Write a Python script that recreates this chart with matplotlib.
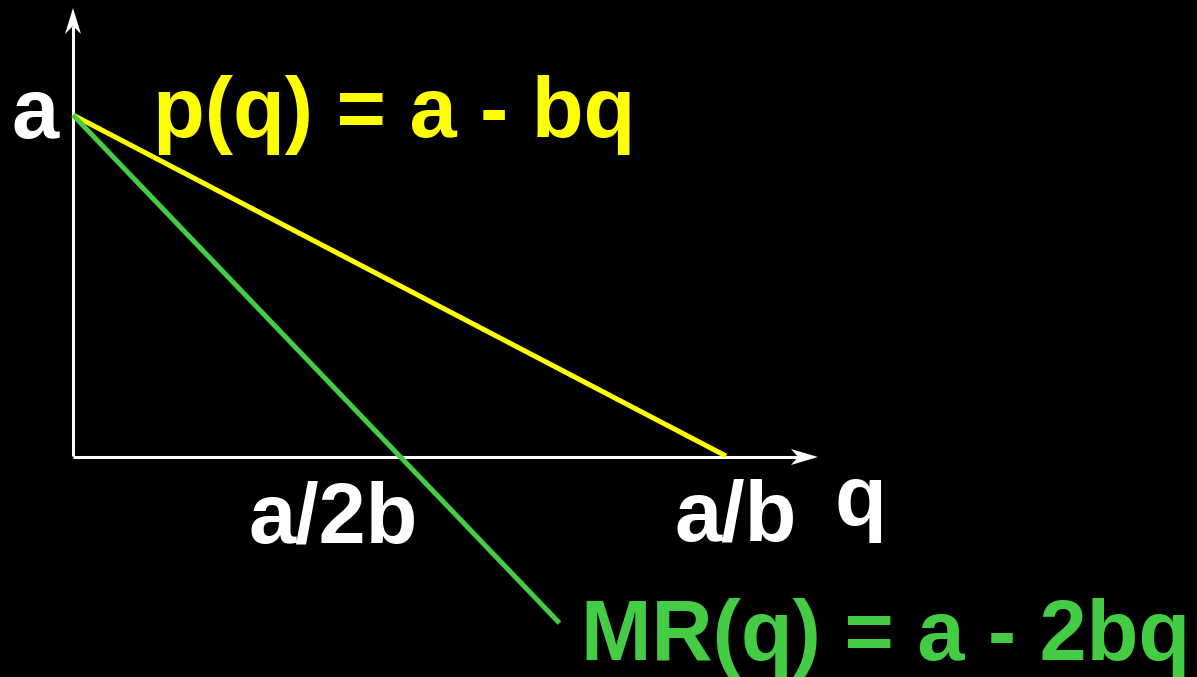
import numpy as np
import matplotlib
matplotlib.use("Agg")
import matplotlib.pyplot as plt
from matplotlib.patches import Polygon

# Linear demand and marginal revenue (a = 1, b = 1)
a = 1.0
b = 1.0
q_demand = [0.0, a / b]
q_mr = [0.0, 0.745]

demand_label = "p(q) = a - bq"
mr_label = "MR(q) = a - 2bq"
tick_labels = ["a/2b", "a/b"]
tick_positions = [a / (2 * b), a / b]

YELLOW = "#FFFF00"
GREEN = "#44CC44"
WHITE = "#FFFFFF"

plt.rcParams["font.family"] = ["Liberation Sans", "DejaVu Sans"]

fig = plt.figure(figsize=(11.97, 6.77), dpi=100, facecolor="black")
ax = fig.add_axes([0, 0, 1, 1])
ax.set_facecolor("black")
ax.set_axis_off()

# data units: one unit of q spans 653 px, one unit of price spans 341 px
sx, sy = 653.0, 341.0
ax.set_xlim(-73 / sx, (1197 - 73) / sx)
ax.set_ylim(-(677 - 456) / sy, 456 / sy)

# axes with arrowheads
ax.plot([0, 0], [0, (456 - 26) / sy], color=WHITE, lw=2.2, solid_capstyle="butt")
ax.plot([0, (798 - 73) / sx], [-1 / sy, -1 / sy], color=WHITE, lw=2.2,
        solid_capstyle="butt")

def px(x, y):
    return ((x - 73) / sx, (456 - y) / sy)

ax.add_patch(Polygon([px(73, 8), px(81, 34), px(73, 26), px(65, 34)],
                     closed=True, color=WHITE, lw=0))
ax.add_patch(Polygon([px(818, 457), px(791, 449), px(798, 457), px(791, 465)],
                     closed=True, color=WHITE, lw=0))

# curves
q_d = np.array(q_demand)
q_m = np.array(q_mr)
ax.plot(q_d, a - b * q_d, color=YELLOW, lw=3.6, solid_capstyle="butt")
ax.plot(q_m, a - 2 * b * q_m, color=GREEN, lw=3.6, solid_capstyle="butt")

fs = 61
ax.text(*px(12, 138), "a", color=WHITE, fontsize=fs, fontweight="bold",
        ha="left", va="baseline")
ax.text(*px(153, 137), demand_label, color=YELLOW, fontsize=fs,
        fontweight="bold", ha="left", va="baseline")
ax.text(*px(581, 660), mr_label, color=GREEN, fontsize=fs,
        fontweight="bold", ha="left", va="baseline")
ax.text(*px(333, 543), tick_labels[0], color=WHITE, fontsize=fs,
        fontweight="bold", ha="center", va="baseline")
ax.text(*px(736, 540), tick_labels[1], color=WHITE, fontsize=fs,
        fontweight="bold", ha="center", va="baseline")
ax.text(*px(834, 525), "q", color=WHITE, fontsize=fs, fontweight="bold",
        ha="left", va="baseline")

fig.savefig("out.png", dpi=100, facecolor="black")
